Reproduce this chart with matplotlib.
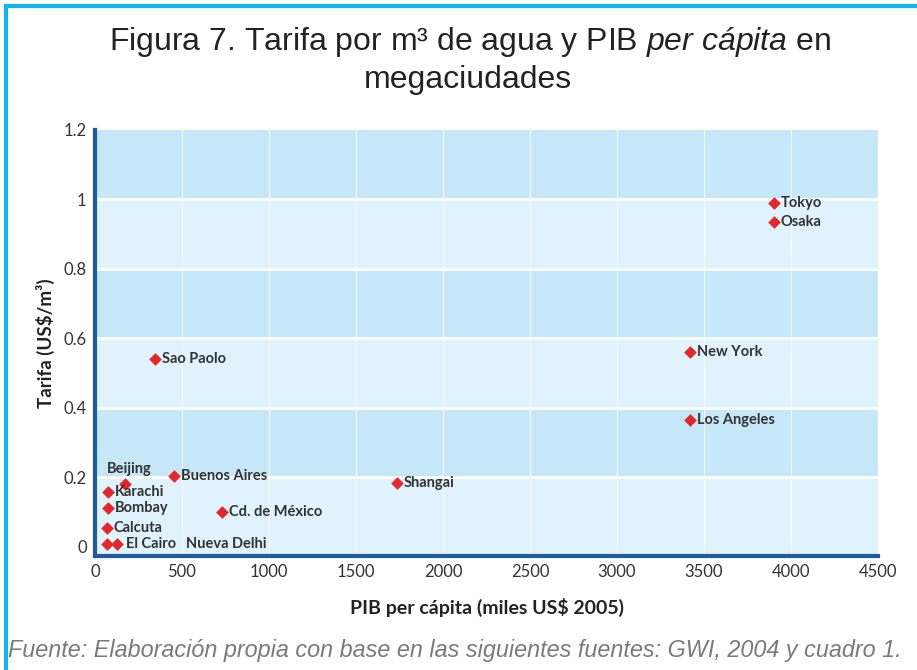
import matplotlib.pyplot as plt

plt.rcParams['mathtext.fontset'] = 'custom'
plt.rcParams['mathtext.rm'] = 'Liberation Sans'
plt.rcParams['mathtext.it'] = 'Liberation Sans:italic'

# data
cities = ['Tokyo', 'Osaka', 'New York', 'Los Angeles', 'Sao Paolo', 'Shangai',
          'Buenos Aires', 'Beijing', 'Karachi', 'Bombay', 'Calcuta',
          'El Cairo', 'Nueva Delhi', 'Cd. de México']
pib = [3900, 3900, 3420, 3420, 345, 1736, 454, 172, 75, 75, 69, 69, 126, 730]
tarifa = [0.99, 0.935, 0.56, 0.365, 0.541, 0.183, 0.203, 0.18, 0.157, 0.11,
          0.053, 0.007, 0.007, 0.10]
xticks = [0, 500, 1000, 1500, 2000, 2500, 3000, 3500, 4000, 4500]
yticks = [0, 0.2, 0.4, 0.6, 0.8, 1.0, 1.2]
ytick_labels = ['0', '0.2', '0.4', '0.6', '0.8', '1', '1.2']

# label offsets in points (dx, dy)
offsets = {'Beijing': (-13, 11), 'El Cairo': (14, 0), 'Nueva Delhi': (50, 0)}

fig = plt.figure(figsize=(9.17, 6.70), dpi=100)
fig.patch.set_facecolor('white')

ax = fig.add_axes([95 / 917, 1 - 556 / 670, 783 / 917, 426 / 670])
ymin = -0.027
ax.set_xlim(0, 4500)
ax.set_ylim(ymin, 1.2)

# alternating bands
dark, light = '#c6e7f8', '#e0f2fb'
edges = [ymin, 0.2, 0.4, 0.6, 0.8, 1.0, 1.2]
for i in range(len(edges) - 1):
    col = light if i % 2 == 0 else dark
    ax.axhspan(edges[i], edges[i + 1], color=col, zorder=0, lw=0)
for y in yticks[1:-1]:
    ax.axhline(y, color='white', lw=2, zorder=1)
for x in xticks[1:-1]:
    ax.axvline(x, color='white', lw=0.8, alpha=0.7, zorder=1)

ax.scatter(pib, tarifa, marker='D', s=42, color='#e3272b', zorder=3, lw=0)

for name, x, y in zip(cities, pib, tarifa):
    dx, dy = offsets.get(name, (5, 0))
    ax.annotate(name, (x, y), xytext=(dx, dy), textcoords='offset points',
                ha='left', va='center', fontsize=10.5, fontweight='bold',
                family='Lato', color='#333333', zorder=4)

for side in ['top', 'right']:
    ax.spines[side].set_visible(False)
for side in ['left', 'bottom']:
    ax.spines[side].set_color('#1f5c9e')
    ax.spines[side].set_linewidth(3)

ax.set_xticks(xticks)
ax.set_xticklabels([str(v) for v in xticks])
ax.set_yticks(yticks)
ax.set_yticklabels(ytick_labels)
ax.tick_params(length=0, labelsize=12, colors='#333333', pad=6)
for lab in ax.get_xticklabels() + ax.get_yticklabels():
    lab.set_family('Lato')

ax.set_xlabel('PIB per cápita (miles US$ 2005)', fontsize=14, fontweight='bold',
              family='Lato', color='#222222', labelpad=13)
ax.set_ylabel('Tarifa (US$/m³)', fontsize=13.5, fontweight='bold',
              family='Lato', color='#222222', labelpad=6)

# title
fig.text(470 / 917, 1 - 42 / 670,
         r'Figura 7. Tarifa por m³ de agua y PIB $\mathit{per\ cápita}$ en',
         ha='center', va='center', fontsize=23, family='Liberation Sans',
         color='#222222')
fig.text(468 / 917, 1 - 80 / 670, 'megaciudades', ha='center', va='center',
         fontsize=23, family='Liberation Sans', color='#222222')

# footnote
fig.text(8 / 917, 1 - 651 / 670,
         'Fuente: Elaboración propia con base en las siguientes fuentes: GWI, 2004 y cuadro 1.',
         ha='left', va='center', fontsize=16.8, style='italic',
         family='Liberation Sans', color='#7a7a7a')

# frame lines (top and left)
fig.add_artist(plt.Line2D([6 / 917, 1], [1 - 6 / 670, 1 - 6 / 670],
                          color='#14b4f0', lw=3, transform=fig.transFigure))
fig.add_artist(plt.Line2D([6 / 917, 6 / 917], [0, 1 - 6 / 670],
                          color='#14b4f0', lw=3, transform=fig.transFigure))

fig.savefig('out.png', dpi=100)
